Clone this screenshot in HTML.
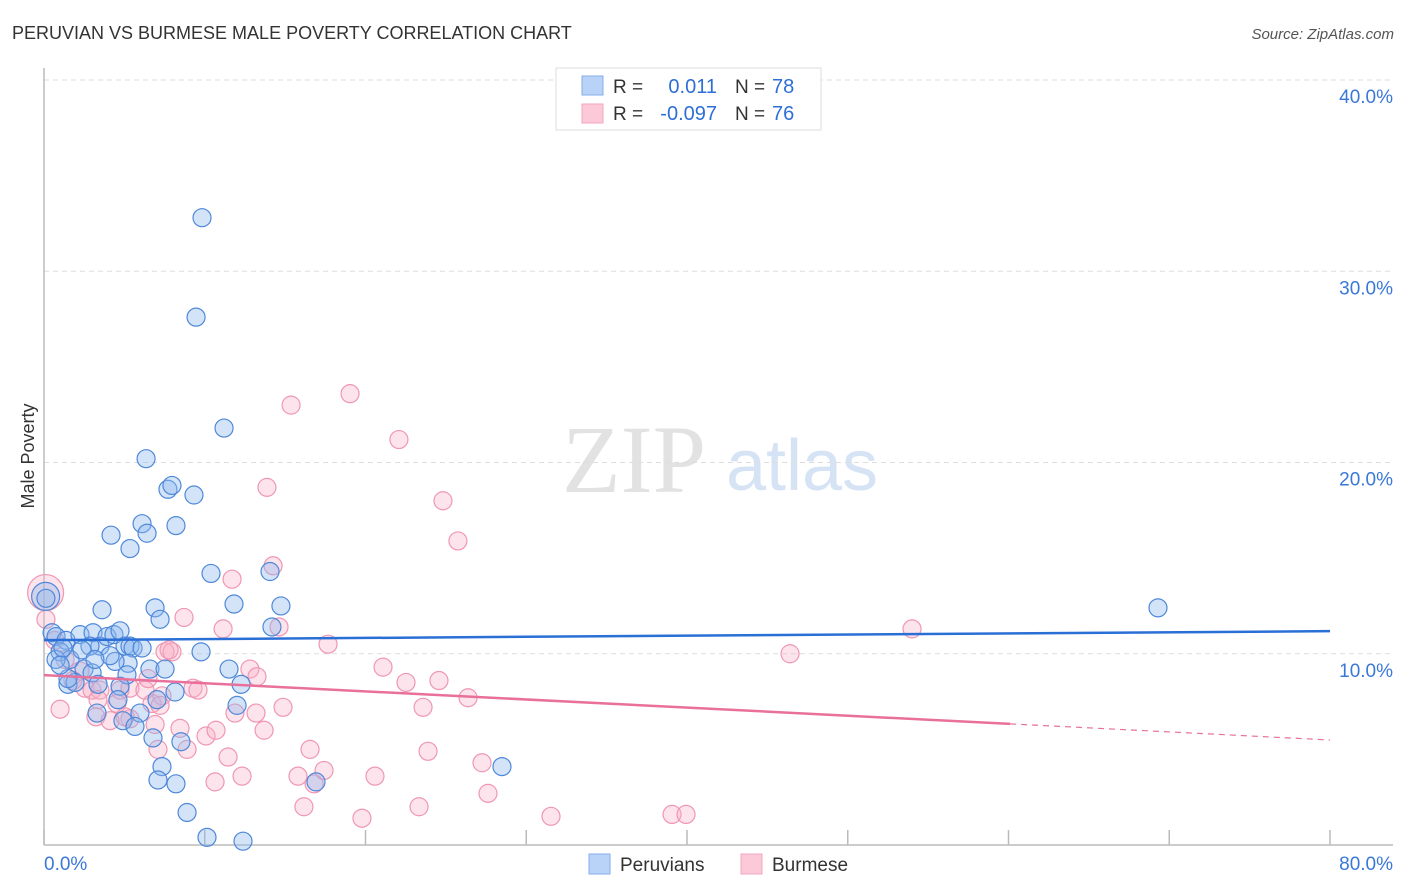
<!DOCTYPE html>
<html><head><meta charset="utf-8">
<style>
body{margin:0;background:#fff;font-family:"Liberation Sans",sans-serif;}
#wrap{position:relative;width:1406px;height:892px;overflow:hidden;}
svg text{font-family:"Liberation Sans",sans-serif;}
</style></head>
<body>
<div id="wrap">
<svg id="svg" width="1406" height="892">
<text x="12" y="39" font-size="18" fill="#333">PERUVIAN VS BURMESE MALE POVERTY CORRELATION CHART</text>
<text x="1394" y="39" font-size="15" fill="#555" text-anchor="end" font-style="italic">Source: ZipAtlas.com</text>
<text x="634" y="492" font-size="96" fill="#e2e2e2" text-anchor="middle" font-family="Liberation Serif" style="font-family:'Liberation Serif',serif">ZIP</text>
<text x="802" y="490" font-size="72" fill="#d6e3f5" text-anchor="middle">atlas</text>
<text transform="translate(34,456) rotate(-90)" font-size="18" fill="#333" text-anchor="middle">Male Poverty</text>
<g id="grid"></g>
<g id="pts"></g>
<g id="lines"></g>
<g>
<rect x="556" y="68" width="265" height="62" fill="#fff" stroke="#ddd"/>
<rect x="582" y="76" width="21" height="19" fill="#b8d3f7" stroke="#86aee8"/>
<rect x="582" y="104" width="21" height="19" fill="#fbc9d8" stroke="#f0a6bd"/>
<text x="613" y="93" font-size="19" fill="#333">R =</text>
<text x="717" y="93" font-size="20" fill="#2d6fd6" text-anchor="end">0.011</text>
<text x="735" y="93" font-size="19" fill="#333">N =</text>
<text x="772" y="93" font-size="20" fill="#2d6fd6">78</text>
<text x="613" y="120" font-size="19" fill="#333">R =</text>
<text x="717" y="120" font-size="20" fill="#2d6fd6" text-anchor="end">-0.097</text>
<text x="735" y="120" font-size="19" fill="#333">N =</text>
<text x="772" y="120" font-size="20" fill="#2d6fd6">76</text>
</g>
<g>
<rect x="589" y="854" width="21" height="20" fill="#b8d3f7" stroke="#86aee8"/>
<text x="620" y="871" font-size="19" fill="#333">Peruvians</text>
<rect x="741" y="854" width="21" height="20" fill="#fbc9d8" stroke="#f0a6bd"/>
<text x="772" y="871" font-size="19" fill="#333">Burmese</text>
</g>
</svg>
</div>
<script>
const yTicks=[10,20,30,40];
const yTickLabels=["10.0%","20.0%","30.0%","40.0%"];
const xTicks=[0,10,20,30,40,50,60,70,80];
const xEndLabels=["0.0%","80.0%"];
const blueX=[0.1,9.83,9.46,11.2,6.35,7.71,7.96,9.33,6.10,8.21,4.17,6.41,5.35,10.39,14.06,6.91,7.22,3.61,11.82,14.74,14.18,0.12,0.50,0.75,1.37,2.24,3.05,3.48,3.92,4.35,4.73,5.04,5.35,5.54,6.10,2.86,1.00,1.62,0.75,2.49,2.99,1.49,1.93,3.36,5.23,4.42,6.59,7.53,9.77,11.51,8.15,7.03,5.16,4.73,12.26,12.01,3.30,5.97,4.91,5.66,6.78,8.52,7.34,7.09,8.21,16.92,28.49,8.90,10.14,12.38,69.30,1.49,4.11,1.18,2.36,3.17,4.60,1.00];
const blueY=[13.0,32.8,27.6,21.8,20.2,18.6,18.8,18.3,16.8,16.7,16.2,16.3,15.5,14.2,14.3,12.4,11.8,12.3,12.6,12.5,11.4,12.9,11.1,10.9,10.7,11.0,11.1,10.4,10.9,11.0,11.2,10.4,10.4,10.3,10.3,10.4,10.1,9.7,9.7,9.2,9.0,8.4,8.5,8.4,9.5,9.6,9.2,9.2,10.1,9.2,8.0,7.6,8.9,8.3,8.4,7.3,6.9,6.9,6.5,6.2,5.6,5.4,4.1,3.4,3.2,3.3,4.1,1.7,0.4,0.2,12.4,8.7,9.9,10.3,10.2,9.7,7.6,9.4];
const pinkX=[0.1,19.04,15.37,22.08,13.87,24.82,25.75,14.25,11.70,8.71,11.14,14.62,17.67,54.0,46.41,7.53,7.96,7.78,21.09,12.81,13.25,22.52,24.57,23.58,26.38,0.12,0.68,1.31,2.24,2.55,2.99,3.48,1.80,3.36,4.73,5.35,6.28,6.47,6.72,7.34,9.27,9.58,4.54,5.35,6.91,8.46,10.08,10.70,11.88,13.19,13.69,14.87,7.09,8.90,11.45,16.55,23.89,27.25,10.64,12.32,15.80,16.80,17.42,20.59,27.62,16.17,23.33,19.78,31.54,39.07,39.94,3.23,4.11,5.04,1.00,7.22];
const pinkY=[13.2,23.6,23.0,21.2,18.7,18.0,15.9,14.6,13.9,11.9,11.3,11.4,10.5,11.3,10.0,10.1,10.1,10.2,9.3,9.2,8.8,8.5,8.6,7.2,7.7,11.8,10.7,9.7,9.1,8.2,8.1,8.1,8.6,7.6,8.1,8.2,8.1,8.7,7.4,7.8,8.2,8.1,7.4,6.6,6.3,6.1,5.7,6.0,6.9,6.9,6.0,7.2,5.0,5.0,4.6,5.0,4.9,4.3,3.3,3.6,3.6,3.2,3.9,3.6,2.7,2.0,2.0,1.4,1.5,1.6,1.6,6.7,6.5,6.7,7.1,7.3];
const blueTrend=[10.71,11.18];
const pinkTrend=[8.88,5.49];
const pinkSolidEnd=60.1;

const X0=44,X1=1330,Y0=845,YTOP=80;
const sx=v=>X0+(X1-X0)*v/80;
const sy=v=>Y0-(Y0-YTOP)*v/40;
const NS="http://www.w3.org/2000/svg";
function mk(tag,attrs,parent){const e=document.createElementNS(NS,tag);for(const k in attrs)e.setAttribute(k,attrs[k]);parent.appendChild(e);return e;}
const grid=document.getElementById('grid');
yTicks.forEach((t,i)=>{
  const l=mk('line',{x1:X0,x2:1393,y1:sy(t),y2:sy(t),stroke:'#ddd','stroke-dasharray':'5,4'},grid);
  
  
  const tx=mk('text',{x:1393,y:sy(t)+23,'font-size':19,fill:'#3a78d8','text-anchor':'end'},grid);
  tx.textContent=yTickLabels[i];
  
  
});
let ax=mk('line',{x1:X0,x2:X0,y1:68,y2:Y0,stroke:'#bbb','stroke-width':1.5},grid);


ax=mk('line',{x1:X0,x2:1393,y1:Y0,y2:Y0,stroke:'#bbb','stroke-width':1.5},grid);


xTicks.forEach(t=>{
  const l=mk('line',{x1:sx(t),x2:sx(t),y1:Y0-15,y2:Y0,stroke:'#bbb','stroke-width':1.5},grid);
  
  
});
let t0=mk('text',{x:44,y:870,'font-size':19,fill:'#3a78d8'},grid);t0.textContent=xEndLabels[0];


t0=mk('text',{x:1393,y:870,'font-size':19,fill:'#3a78d8','text-anchor':'end'},grid);t0.textContent=xEndLabels[1];


const pts=document.getElementById('pts');
function series(xs,ys,fill,stroke,name,big){
  xs.forEach((x,i)=>{
    const c=mk('circle',{cx:sx(x),cy:sy(ys[i]),r:i===0?big:9,fill:fill,stroke:stroke,'stroke-width':1.2},pts);
    
    
  });
}
series(pinkX,pinkY,'rgba(248,175,198,0.35)','#ef97b3','burmese',18);
series(blueX,blueY,'rgba(140,185,240,0.38)','#4f88d9','peruvians',14);
const lines=document.getElementById('lines');
let bl=mk('line',{x1:sx(0),y1:sy(blueTrend[0]),x2:sx(80),y2:sy(blueTrend[1]),stroke:'#2a6fd6','stroke-width':2.5},lines);


const pAt=x=>pinkTrend[0]+(pinkTrend[1]-pinkTrend[0])*x/80;
let pl=mk('line',{x1:sx(0),y1:sy(pinkTrend[0]),x2:sx(pinkSolidEnd),y2:sy(pAt(pinkSolidEnd)),stroke:'#e8709a','stroke-width':2.5},lines);


let pd=mk('line',{x1:sx(pinkSolidEnd),y1:sy(pAt(pinkSolidEnd)),x2:sx(80),y2:sy(pinkTrend[1]),stroke:'#e8709a','stroke-width':1.2,'stroke-dasharray':'6,5'},lines);


</script>
</body></html>
